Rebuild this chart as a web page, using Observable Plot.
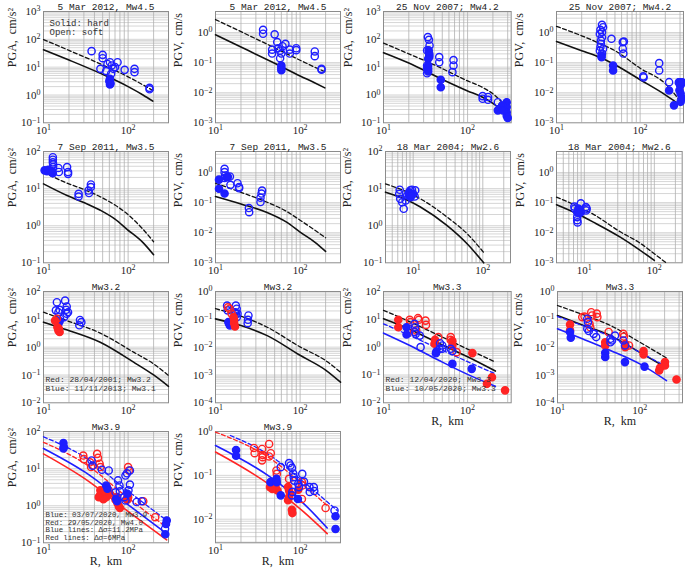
<!DOCTYPE html>
<html><head><meta charset="utf-8">
<script src="https://cdn.jsdelivr.net/npm/d3@7"></script>
<script src="https://cdn.jsdelivr.net/npm/@observablehq/plot@0.6"></script>
<style>
body{margin:0;background:#fff}
#wrap{position:relative;width:685px;height:568px;overflow:hidden;background:#fff}
#wrap svg{position:absolute;overflow:visible}
</style>
</head><body><div id="wrap"></div>
<script>
// ---------- data: [distance R km, amplitude] ----------
// Panel 1: PGA 5 Mar 2012
const p1Open=[[37,37.6],[50,27.7],[50,21],[47,8.7],[55,7.2],[57,13],[61,15],[64,11.5],[67,8.7],[63,5.8],[75,15],[70,10],[91,8],[119,8.7],[119,6.6],[179,1.8],[179,1.6]];
const p1Fill=[[61,3.8],[61,2.9],[61,2.4],[60,3.2],[62,2.6]];
const p1Solid=[[10,42],[20,18],[50,5.5],[100,2.0],[150,1.0],[196,0.6]];
const p1Dash=[[10,98],[20,40],[50,12],[100,4.5],[150,2.3],[196,1.45]];
// Panel 2: PGV 5 Mar 2012
const p2Open=[[36.5,1.23],[36.5,0.91],[50,0.87],[53.6,0.48],[46.7,0.27],[46.7,0.2],[55,0.3],[58,0.25],[60,0.2],[67,0.42],[62,0.35],[58,0.14],[75.5,0.27],[75.5,0.2],[90,0.3],[90,0.26],[149,0.235],[149,0.164],[179,0.062],[179,0.058]];
const p2Fill=[[60,0.08],[60,0.066],[60,0.056]];
const p2Solid=[[10,0.84],[20,0.33],[50,0.095],[100,0.036],[150,0.021],[196,0.0145]];
const p2Dash=[[10,2.7],[20,1.07],[50,0.31],[100,0.12],[150,0.07],[196,0.05]];
// Panel 3: PGA 25 Nov 2007
const p3Open=[[33.7,120],[34.7,96],[35.3,60],[33,40],[35,26],[35,23],[33,11.5],[33,8.7],[33,6],[46,23],[46,15],[68,18],[68,11.5],[66,6.6],[151,0.91],[151,0.73],[175,0.85],[175,0.67],[229,0.55]];
const p3Fill=[[34,11.5],[34,8.7],[34.5,40],[35,30],[34,20],[34,7],[48,3.5],[48,1.9],[229,0.28],[292,0.55],[292,0.37],[292,0.24],[292,0.18],[300,0.15],[257,0.42],[265,0.28]];
const p3Solid=[[10,33],[20,14],[46,4.1],[100,1.4],[149,0.84],[200,0.5],[306,0.18]];
const p3Dash=[[10,73],[20,30],[46,10],[100,3.2],[149,1.9],[200,1.1],[300,0.33]];
// Panel 4: PGV 25 Nov 2007
const p4Open=[[35,1.8],[36,1.5],[33.5,1.23],[35,1.03],[33,0.9],[35,0.7],[34,0.54],[34,0.42],[33.5,0.33],[36,0.29],[33,0.25],[35,0.2],[45.4,0.62],[62,0.48],[64,0.5],[62,0.29],[63,0.2],[109,0.035],[110,0.032],[169,0.096],[169,0.055],[222,0.0224],[290,0.022],[300,0.018],[310,0.022]];
const p4Fill=[[34.6,0.17],[34.6,0.15],[47.5,0.08],[47.5,0.055],[222,0.0119],[254,0.0038],[295,0.022],[305,0.018],[295,0.012],[305,0.0093],[305,0.005],[315,0.0066],[320,0.022]];
const p4Solid=[[10,0.5],[20,0.25],[33,0.15],[50,0.085],[100,0.027],[200,0.0085],[305,0.0038]];
const p4Dash=[[10,1.6],[20,0.78],[33,0.43],[50,0.25],[100,0.065],[200,0.02],[305,0.005]];
// Panel 5: PGA 7 Sep 2011
const p5Open=[[12.9,70],[12.9,60],[12.9,51],[13,45],[13,38],[11.4,32],[15,36],[15.2,28],[19,38],[19.5,28],[19.5,25],[26,7.2],[26,6.1],[34,8.9],[34.5,7.6],[36.3,12.9],[36.3,11]];
const p5Fill=[[10.3,31],[11,29.5],[11.8,31],[12.9,26],[12.5,29]];
const p5Solid=[[10,13.4],[19,6.5],[30,4.2],[47,2.6],[70,1.5],[97,0.8],[150,0.35],[200,0.165]];
const p5Dash=[[10,27.7],[19,14],[30,9.5],[47,6],[70,3.6],[97,2.1],[150,0.8],[200,0.37]];
// Panel 6: PGV 7 Sep 2011
const p6Open=[[12.8,1.33],[12.8,1.03],[13,0.8],[12.8,0.66],[14.8,0.74],[15,0.39],[18.2,0.44],[19,0.33],[19,0.3],[24.8,0.066],[25,0.048],[34,0.145],[34,0.105],[35,0.2],[35.5,0.25]];
const p6Fill=[[11,0.58],[11,0.29],[12.8,0.2],[13.5,0.7],[14,0.72]];
const p6Solid=[[10,0.16],[20,0.09],[40,0.048],[70,0.022],[100,0.0105],[150,0.0048],[200,0.0024]];
const p6Dash=[[10,0.44],[20,0.22],[40,0.105],[70,0.05],[100,0.026],[150,0.012],[200,0.0068]];
// Panel 7: PGA 18 Mar 2004
const p7Open=[[6.4,9.3],[6.3,7.2],[6.5,5.3],[6.95,4.3],[7.3,2.85],[9.1,9],[9.6,9.3],[10.7,9],[10.5,6.1],[10,7.2],[8.2,6.5],[7.8,4.8]];
const p7Fill=[[8.7,8],[8.7,6.5],[9.7,6.9],[9.2,5.9]];
const p7Solid=[[4,8],[8,5],[12.7,3.2],[30.8,1.0],[60,0.32],[103,0.1]];
const p7Dash=[[4,13.4],[8,8.2],[12.7,5.3],[30.8,1.7],[60,0.6],[103,0.19]];
// Panel 8: PGV 18 Mar 2004
const p8Open=[[7.2,0.074],[7.3,0.063],[7.9,0.033],[7.9,0.026],[8,0.022],[8.9,0.095],[10.5,0.071],[10.8,0.063],[10.6,0.055],[8.9,0.048]];
const p8Fill=[[8.2,0.063],[8.5,0.055],[7.9,0.048],[8.6,0.045]];
const p8Solid=[[4,0.085],[8,0.042],[13.7,0.022],[33,0.007],[60,0.0028],[100,0.0012]];
const p8Dash=[[4,0.152],[13.7,0.04],[33,0.0105],[60,0.0048],[100,0.002],[147,0.001]];
// Panel 9: PGA Mw3.2
const p9BlueOpen=[[14.4,41],[18,47],[14,21],[15,18],[15.5,22],[18.8,29],[18.5,22],[19.5,18],[18.8,16],[17.5,12],[27,9.5],[28,7.9],[26.5,6.1],[15.7,10.5]];
const p9BlueFill=[[15,6.9],[15.5,8.6]];
const p9RedOpen=[[14.4,10.5]];
const p9RedFill=[[14.6,5.2],[15,4],[15.5,3.5],[15.2,4.6],[13.7,9]];
const p9Solid=[[10,7.9],[18.8,4.2],[46.8,1.5],[116,0.29],[200,0.1],[300,0.039]];
const p9Dash=[[10,18],[18.8,9],[46.8,3.2],[116,0.66],[200,0.25],[300,0.096]];
// Panel 10: PGV Mw3.2
const p10BlueOpen=[[13.7,0.31],[13.9,0.21],[17.4,0.31],[17.8,0.24],[17,0.18],[17.4,0.16],[18.2,0.16],[17.9,0.12],[24.5,0.138],[24.2,0.096],[24,0.073]];
const p10BlueFill=[[14.5,0.069],[14.8,0.06],[14.2,0.079]];
const p10RedOpen=[[14,0.27],[14.7,0.24],[15.5,0.16]];
const p10RedFill=[[16.6,0.096],[16.6,0.073],[17,0.055],[16.3,0.12]];
const p10Solid=[[10,0.104],[20,0.06],[40.8,0.026],[101,0.005],[200,0.0015],[300,0.00055]];
const p10Dash=[[10,0.24],[20,0.13],[40.8,0.052],[101,0.01],[200,0.0033],[300,0.00126]];
// Panel 11: PGA Mw3.3
const p11RedFill=[[15,9.6],[15,5.2],[40.4,1.32],[41,1.82],[66,1.64],[66,1.15],[114,0.61],[195,0.083],[170,0.048],[279,0.028]];
const p11RedOpen=[[20.5,9.6],[20.8,7.9],[25.7,11],[26.3,9.6],[31.6,9],[32,6.3],[23,3.5],[24.5,4],[63,2.3],[63,1.82],[74,0.66],[44.8,2.3]];
const p11BlueFill=[[18.8,5.2],[18.8,2.85],[42.6,0.7],[42,0.6],[66,0.25],[112,0.166]];
const p11BlueOpen=[[23.4,6.9],[23.8,5.2],[23.8,3.5],[24.2,3],[27,2.6],[27.6,1.0],[47,1.38],[50,1.15],[46.5,0.87],[50,0.87],[63,0.87],[66,0.72]];
const p11Solid=[[10,10.4],[20,4.5],[46,1.35],[100,0.45],[214,0.138]];
const p11Dash=[[10,21],[20,8.5],[46,2.6],[100,0.85],[214,0.29]];
const p11BlueSolid=[[10,3.2],[20,1.2],[46,0.33],[100,0.105],[214,0.039]];
const p11BlueDash=[[10,6.9],[20,2.7],[46,0.87],[100,0.3],[214,0.11]];
// Panel 12: PGV Mw3.3
const p12RedFill=[[14.2,0.065],[14.2,0.04],[38,0.015],[38,0.0115],[66.5,0.013],[66.5,0.01],[111,0.0072],[111,0.0055],[176,0.0018],[172,0.00145],[202,0.0029],[202,0.0022],[279,0.00069]];
const p12RedOpen=[[20,0.12],[21.3,0.126],[25.7,0.18],[26.3,0.137],[30,0.16],[30.5,0.12],[24.5,0.069],[25,0.052],[41.8,0.035],[63,0.03],[64,0.024],[74,0.0115]];
const p12BlueFill=[[14.2,0.035],[14.5,0.022],[38,0.0063],[38,0.0044],[66,0.0029],[114,0.002]];
const p12BlueOpen=[[23,0.105],[23.4,0.079],[23,0.046],[24,0.038],[27.5,0.03],[29.5,0.023],[44,0.02],[44,0.015],[46,0.0175],[63,0.0174],[66,0.0115],[50,0.026]];
const p12Solid=[[10,0.137],[20,0.063],[44,0.026],[100,0.0065],[211,0.0018]];
const p12Dash=[[10,0.314],[20,0.15],[44,0.06],[100,0.015],[211,0.0041]];
const p12BlueSolid=[[10,0.046],[20,0.02],[44,0.0076],[100,0.0025],[211,0.00063]];
const p12BlueDash=[[10,0.126],[20,0.06],[44,0.024],[100,0.0065],[211,0.002]];
// Panel 13: PGA Mw3.9
const p13BlueFill=[[17.2,48.5],[17.4,38],[17.2,35],[55,3.5],[57,2.85],[72,1.53],[74,1.32],[286,0.4],[280,0.32],[275,0.17],[98,2.1]];
const p13BlueOpen=[[37,16.6],[38,12],[49,9.3],[59,8.9],[79,3.5],[80,2.45],[76,4.8],[93,6.5],[97,7.5],[105,8.9],[105,3.7],[101,2.6],[90,1.7],[93,1.38],[126,1.26],[145,1.32],[71,2.3],[273,0.24]];
const p13RedFill=[[47,2.6],[49,2.2],[51,1.87],[47,2],[45,1.7],[51,1.5],[55,1.7],[53,2.45],[71,1.45],[74,1.7],[75,1.17],[78,0.95],[80,0.87],[61,2.1],[100,1.7],[98,1.45]];
const p13RedOpen=[[29.5,22.5],[30,18],[35.5,14.8],[36.5,11],[43,25],[44,19.5],[46,13.5],[47,11],[56,3.2],[59,2.6],[100,11],[102,8.9],[97,1.6],[151,1.32],[209,0.49]];
const p13BlueDash=[[10,72],[31,20],[97,2.6],[286,0.4]];
const p13BlueSolid=[[10,35],[31,8],[97,1.12],[286,0.175]];
const p13RedDash=[[10,51],[31,13.5],[97,1.7],[286,0.26]];
const p13RedSolid=[[10,25],[31,5.3],[97,0.74],[286,0.12]];
// Panel 14: PGV Mw3.9
const p14BlueFill=[[17.5,0.38],[17.5,0.28],[44.6,0.07],[52.6,0.083],[53,0.07],[59,0.035],[94,0.029],[262,0.0117],[262,0.006]];
const p14BlueOpen=[[59,0.154],[74,0.19],[77,0.168],[80,0.148],[83,0.11],[84,0.091],[85,0.076],[95,0.064],[97,0.054],[106,0.108],[111,0.072],[129,0.054],[130,0.042],[145,0.054],[147,0.044],[80,0.035],[81,0.042],[255,0.0158]];
const p14RedFill=[[51,0.059],[52,0.049],[54,0.045],[50,0.054],[44,0.054],[47,0.049],[72,0.054],[74,0.045],[76,0.038],[74,0.032],[72,0.027],[80,0.0163],[81,0.0138],[95,0.047]];
const p14RedOpen=[[28.5,0.42],[29,0.32],[35.5,0.4],[36,0.29],[43,0.52],[45,0.32],[43,0.27],[35.5,0.22],[36,0.26],[52.5,0.129],[53,0.108],[74,0.083],[105,0.07],[106,0.059],[105,0.029],[200,0.018]];
const p14BlueDash=[[15,0.81],[44.6,0.28],[111,0.07],[274,0.0158]];
const p14RedDash=[[10,0.97],[44.6,0.24],[111,0.059],[209,0.0204]];
const p14BlueSolid=[[10,0.48],[44.6,0.091],[111,0.0224],[209,0.0063]];
const p14RedSolid=[[10,0.34],[44.6,0.059],[111,0.0145],[209,0.0047]];

// ---------- text ----------
const titles=["5 Mar 2012, Mw4.5","5 Mar 2012, Mw4.5","25 Nov 2007; Mw4.2","25 Nov 2007; Mw4.2",
 "7 Sep 2011, Mw3.5","7 Sep 2011, Mw3.5","18 Mar 2004; Mw2.6","18 Mar 2004; Mw2.6",
 "Mw3.2","Mw3.2","Mw3.3","Mw3.3","Mw3.9","Mw3.9"];
const PGA="PGA,  cm/s²", PGV="PGV,  cm/s", XL="R,  km";
const legend1=["Solid: hard","Open: soft"];
const legend9=["Red: 28/04/2001; Mw3.2","Blue: 11/11/2013; Mw3.1"];
const legend11=["Red: 12/04/2020; Mw3.3","Blue: 10/05/2020; Mw3.3"];
const legend13=["Blue: 03/07/2020, Mw3.9","Red: 29/05/2020, Mw4.0","Blue lines: Δσ=11.2MPa","Red lines: Δσ=6MPa"];

const BLUE="#1e1eff", RED="#ff2424", BLACK="#111";
const SERIF="'Liberation Serif','Times New Roman',serif", MONO="'Liberation Mono','Courier New',monospace";
const wrap=document.getElementById("wrap");
const fmt=d=>"10^"+String(Math.round(Math.log10(d))).replace("-","−");

function grid(dom, kmin){
  const out=[];
  for(let e=Math.floor(Math.log10(dom[0]))-1;e<=Math.ceil(Math.log10(dom[1]));e++)
    for(let k=kmin;k<10;k++){const v=k*Math.pow(10,e); if(v>dom[0]*1.001&&v<dom[1]*0.999) out.push(v);}
  return out;
}

function panel(c){
  const [x0,x1,y0,y1]=c.frame;
  const ML=46,MR=4,MT=14,MB=26;
  const W=ML+(x1-x0)+MR, H=MT+(y1-y0)+MB;
  const marks=[
    Plot.ruleY(grid(c.yd,1),{stroke:"#d6d6d6",strokeWidth:1}),
    Plot.ruleX(grid(c.xd,1),{stroke:"#b0b0b0",strokeWidth:0.8}),
    Plot.frame({stroke:"#8c8c8c",strokeWidth:1})
  ];
  for(const l of c.lines){
    marks.push(Plot.line(l.data,{x:d=>d[0],y:d=>d[1],stroke:l.color,strokeWidth:l.dash?1.3:1.6,
      strokeDasharray:l.dash?"4,2.5":null,curve:"monotone-x"}));
  }
  for(const s of c.dots){
    marks.push(Plot.dot(s.data,{x:d=>d[0],y:d=>d[1],r:3.6,stroke:s.color,strokeWidth:1.4,fill:s.filled?s.color:"none"}));
  }
  marks.push(Plot.text([c.title],{frameAnchor:"top",dy:-8,fontFamily:MONO,fontSize:9.5,fill:"#222"}));
  marks.push(Plot.text([c.ylabel],{frameAnchor:"left",dx:c.yoff,rotate:-90,fontFamily:SERIF,fontSize:12,fill:"#222"}));
  if(c.xlabel) marks.push(Plot.text([XL],{frameAnchor:"bottom",dy:22,fontFamily:SERIF,fontSize:12,fill:"#222"}));
  if(c.legend){
    c.legend.forEach((t,i)=>marks.push(Plot.text([t],{frameAnchor:c.legTop?"top-left":"bottom-left",
      dx:c.legDx,dy:c.legY0+i*c.legStep,textAnchor:"start",fontFamily:MONO,fontSize:c.legFs,fill:"#333"})));
  }
  const svg=Plot.plot({
    width:W,height:H,marginLeft:ML,marginRight:MR,marginTop:MT,marginBottom:MB,
    style:{background:"none",fontFamily:SERIF,fontSize:"11px",color:"#222",overflow:"visible"},
    x:{type:"log",domain:c.xd,ticks:[10,100],tickSize:0,tickPadding:3,tickFormat:fmt,label:null},
    y:{type:"log",domain:c.yd,ticks:c.yt,tickSize:0,tickPadding:3,tickFormat:fmt,label:null},
    marks
  });
  svg.querySelectorAll("text").forEach(t=>{
    const m=/^10\^(−?\d+)$/.exec(t.textContent);
    if(m){t.textContent="10";const ts=document.createElementNS("http://www.w3.org/2000/svg","tspan");
      ts.setAttribute("dy","-0.45em");ts.setAttribute("font-size","8");ts.textContent=m[1];t.appendChild(ts);}
  });
  svg.style.position="absolute";
  svg.style.left=(x0-ML)+"px"; svg.style.top=(y0-MT)+"px";
  svg.style.maxWidth="none";
  wrap.appendChild(svg);
}

const XA=[10,300], XB=[10,330], XC=[4,250];
const Y4=[0.1,1000], YV=[0.001,5], Y3=[0.1,100], Y9=[0.01,100], Y10=[0.0001,1], Y14=[0.0029,1];
const T4=[0.1,1,10,100,1000], TV=[0.001,0.01,0.1,1], T3=[0.1,1,10,100], T9=[0.01,0.1,1,10,100], T10=[0.0001,0.001,0.01,0.1,1], T14=[0.01,0.1,1];
const R1=[11,122.3], R2=[151,262.3], R3=[291,402.3], R4=[431,542.3];
const blk=(s,d)=>[{data:s,color:BLACK},{data:d,color:BLACK,dash:true}];
const bf=(o,f)=>[{data:o,color:BLUE},{data:f,color:BLUE,filled:true}];

panel({frame:[43.3,168.3,...R1],xd:XA,yd:Y4,yt:T4,title:titles[0],ylabel:PGA,yoff:-31,lines:blk(p1Solid,p1Dash),dots:bf(p1Open,p1Fill),
  legend:legend1,legTop:true,legDx:6,legY0:8.5,legStep:9,legFs:9});
panel({frame:[215,340,...R1],xd:XA,yd:YV,yt:TV,title:titles[1],ylabel:PGV,yoff:-37,lines:blk(p2Solid,p2Dash),dots:bf(p2Open,p2Fill)});
panel({frame:[383.3,511,...R1],xd:XB,yd:Y4,yt:T4,title:titles[2],ylabel:PGA,yoff:-35,lines:blk(p3Solid,p3Dash),dots:bf(p3Open,p3Fill)});
panel({frame:[556,683,...R1],xd:XB,yd:YV,yt:TV,title:titles[3],ylabel:PGV,yoff:-37,lines:blk(p4Solid,p4Dash),dots:bf(p4Open,p4Fill)});

panel({frame:[43.3,168.3,...R2],xd:XA,yd:Y3,yt:T3,title:titles[4],ylabel:PGA,yoff:-31,lines:blk(p5Solid,p5Dash),dots:bf(p5Open,p5Fill)});
panel({frame:[215,340,...R2],xd:XA,yd:YV,yt:TV,title:titles[5],ylabel:PGV,yoff:-37,lines:blk(p6Solid,p6Dash),dots:bf(p6Open,p6Fill)});
panel({frame:[385,510,...R2],xd:XC,yd:Y3,yt:T3,title:titles[6],ylabel:PGA,yoff:-38,lines:blk(p7Solid,p7Dash),dots:bf(p7Open,p7Fill)});
panel({frame:[556,681.7,...R2],xd:XC,yd:YV,yt:TV,title:titles[7],ylabel:PGV,yoff:-36,lines:blk(p8Solid,p8Dash),dots:bf(p8Open,p8Fill)});

panel({frame:[43.3,168.3,...R3],xd:XA,yd:Y9,yt:T9,title:titles[8],ylabel:PGA,yoff:-31,lines:blk(p9Solid,p9Dash),
  dots:[...bf(p9BlueOpen,p9BlueFill),{data:p9RedOpen,color:RED},{data:p9RedFill,color:RED,filled:true}],
  legend:legend9,legTop:false,legDx:2,legY0:-21,legStep:8.8,legFs:8});
panel({frame:[215,340,...R3],xd:XA,yd:Y10,yt:T10,title:titles[9],ylabel:PGV,yoff:-37,lines:blk(p10Solid,p10Dash),
  dots:[...bf(p10BlueOpen,p10BlueFill),{data:p10RedOpen,color:RED},{data:p10RedFill,color:RED,filled:true}]});
panel({frame:[383.3,511,...R3],xd:XB,yd:Y9,yt:T9,title:titles[10],ylabel:PGA,yoff:-36,xlabel:true,
  lines:[...blk(p11Solid,p11Dash),{data:p11BlueSolid,color:BLUE},{data:p11BlueDash,color:BLUE,dash:true}],
  dots:[{data:p11RedFill,color:RED,filled:true},{data:p11RedOpen,color:RED},...bf(p11BlueOpen,p11BlueFill)],
  legend:legend11,legTop:false,legDx:2,legY0:-21,legStep:8.8,legFs:8});
panel({frame:[556.7,681.7,...R3],xd:XB,yd:Y10,yt:T10,title:titles[11],ylabel:PGV,yoff:-39,xlabel:true,
  lines:[...blk(p12Solid,p12Dash),{data:p12BlueSolid,color:BLUE},{data:p12BlueDash,color:BLUE,dash:true}],
  dots:[{data:p12RedFill,color:RED,filled:true},{data:p12RedOpen,color:RED},...bf(p12BlueOpen,p12BlueFill)]});

panel({frame:[43.3,168.3,...R4],xd:XA,yd:Y3,yt:T3,title:titles[12],ylabel:PGA,yoff:-31,xlabel:true,
  lines:[{data:p13BlueSolid,color:BLUE},{data:p13BlueDash,color:BLUE,dash:true},{data:p13RedSolid,color:RED},{data:p13RedDash,color:RED,dash:true}],
  dots:[{data:p13RedFill,color:RED,filled:true},{data:p13RedOpen,color:RED},...bf(p13BlueOpen,p13BlueFill)],
  legend:legend13,legTop:false,legDx:2,legY0:-25.5,legStep:7.5,legFs:7.4});
panel({frame:[215,340,...R4],xd:XA,yd:Y14,yt:T14,title:titles[13],ylabel:PGV,yoff:-37,xlabel:true,
  lines:[{data:p14BlueSolid,color:BLUE},{data:p14BlueDash,color:BLUE,dash:true},{data:p14RedSolid,color:RED},{data:p14RedDash,color:RED,dash:true}],
  dots:[{data:p14RedFill,color:RED,filled:true},{data:p14RedOpen,color:RED},...bf(p14BlueOpen,p14BlueFill)]});
</script></body></html>
